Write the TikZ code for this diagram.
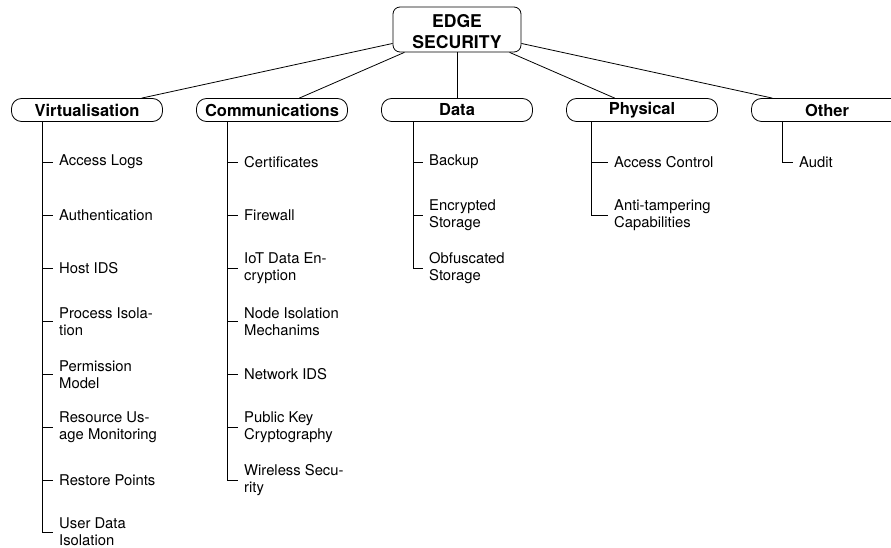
\documentclass[tikz,border=0pt]{standalone}
\usepackage{fontspec}
\setmainfont{TeX Gyre Heros}
\begin{document}
\begin{tikzpicture}[x=1pt,y=-1pt,
  rootbox/.style={draw, line width=0.8pt, rounded corners=7pt, minimum width=128pt, minimum height=45pt, align=center, inner sep=0pt, font=\fontsize{17.6}{21}\selectfont\bfseries},
  catbox/.style={draw, line width=0.8pt, rounded corners=10pt, minimum width=151pt, minimum height=23pt, inner sep=0pt, font=\fontsize{16.5}{19}\selectfont\bfseries},
  itemtext/.style={anchor=west, align=left, inner sep=0pt, font=\fontsize{14.8}{17}\selectfont},
  link/.style={line width=0.8pt}
]
\useasboundingbox (0,0) rectangle (891,548);

\node[rootbox] (root) at (457,29.5) {\rule{0pt}{17.5pt}EDGE\\SECURITY};

\node[catbox] (virt) at (87,110) {Virtualisation};
\node[catbox] (comm) at (272,110) {Communications};
\node[catbox] (data) at (457,110) {Data};
\node[catbox] (phys) at (642,110) {Physical};
\node[catbox] (other) at (827,110) {Other};

\foreach \c in {virt,comm,data,phys,other}
  \draw[link] (root) -- (\c);

% Virtualisation items
\node[itemtext] (v1) at (59,162) {Access Logs};
\node[itemtext] (v2) at (59,215) {Authentication};
\node[itemtext] (v3) at (59,268) {Host IDS};
\node[itemtext] (v4) at (59,321.5) {Process Isola-\\tion};
\node[itemtext] (v5) at (59,374.5) {Permission\\Model};
\node[itemtext] (v6) at (59,427) {Resource Us-\\age Monitoring};
\node[itemtext] (v7) at (59,480) {Restore Points};
\node[itemtext] (v8) at (59,532) {User Data\\Isolation};

% Communications items
\node[itemtext] (c1) at (244,162.5) {Certificates};
\node[itemtext] (c2) at (244,215) {Firewall};
\node[itemtext] (c3) at (244,268) {IoT Data En-\\cryption};
\node[itemtext] (c4) at (244,321.5) {Node Isolation\\Mechanims};
\node[itemtext] (c5) at (244,374.5) {Network IDS};
\node[itemtext] (c6) at (244,427) {Public Key\\Cryptography};
\node[itemtext] (c7) at (244,480) {Wireless Secu-\\rity};

% Data items
\node[itemtext] (d1) at (429,162) {Backup};
\node[itemtext] (d2) at (429,215.5) {Encrypted\\Storage};
\node[itemtext] (d3) at (429,268) {Obfuscated\\Storage};

% Physical items
\node[itemtext] (p1) at (614,162) {Access Control};
\node[itemtext] (p2) at (614,215.5) {Anti-tampering\\Capabilities};

% Other items
\node[itemtext] (o1) at (799,162) {Audit};

% tree lines
\coordinate (vt) at ([xshift=31pt]virt.south west);
\coordinate (ct) at ([xshift=31.5pt]comm.south west);
\coordinate (dt) at ([xshift=32.5pt]data.south west);
\coordinate (pt) at ([xshift=25.5pt]phys.south west);
\coordinate (ot) at ([xshift=31.5pt]other.south west);

\draw[link] (vt) |- ([xshift=-6pt]v8.west);
\foreach \n in {v1,v2,v3,v4,v5,v6,v7}
  \draw[link] (vt |- \n.west) -- ([xshift=-6pt]\n.west);

\draw[link] (ct) |- ([xshift=-6pt]c7.west);
\foreach \n in {c1,c2,c3,c4,c5,c6}
  \draw[link] (ct |- \n.west) -- ([xshift=-6pt]\n.west);

\draw[link] (dt) |- ([xshift=-6pt]d3.west);
\foreach \n in {d1,d2}
  \draw[link] (dt |- \n.west) -- ([xshift=-6pt]\n.west);

\draw[link] (pt) |- ([xshift=-6pt]p2.west);
\draw[link] (pt |- p1.west) -- ([xshift=-6pt]p1.west);

\draw[link] (ot) |- ([xshift=-6pt]o1.west);
\end{tikzpicture}
\end{document}
